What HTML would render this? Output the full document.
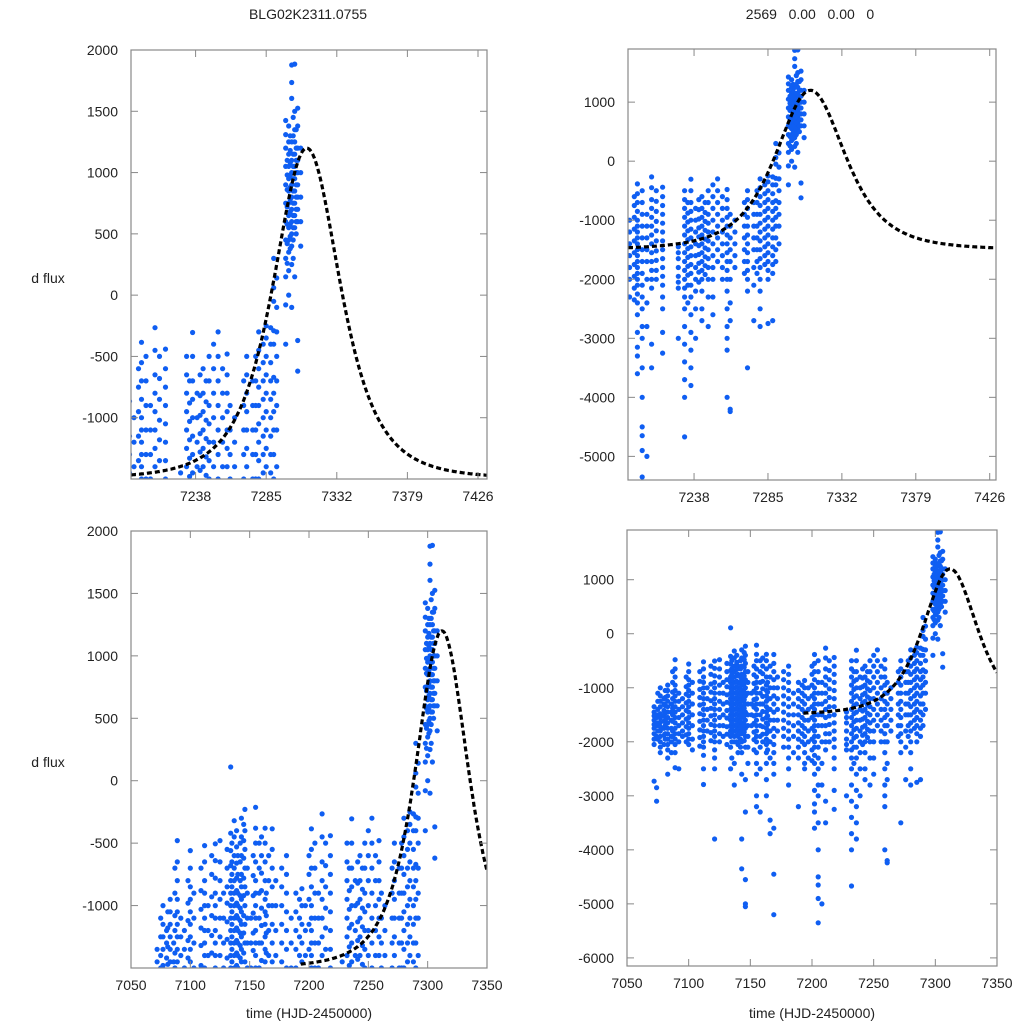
<!DOCTYPE html>
<html><head><meta charset="utf-8"><style>
html,body{margin:0;padding:0;background:#fff;width:1024px;height:1024px;overflow:hidden;}
svg{display:block;font-family:"Liberation Sans",Arial,sans-serif;}
</style></head><body>
<svg id="chart" width="1024" height="1024" viewBox="0 0 1024 1024" xmlns="http://www.w3.org/2000/svg">
<rect width="1024" height="1024" fill="#fff"/>
<text x="308" y="19" font-size="14" text-anchor="middle" fill="#222">BLG02K2311.0755</text>
<text x="810" y="19" font-size="14" text-anchor="middle" fill="#222" style="white-space:pre" xml:space="preserve">2569   0.00   0.00   0</text>
<text x="48" y="283" font-size="14" text-anchor="middle" fill="#222">d flux</text>
<text x="48" y="767" font-size="14" text-anchor="middle" fill="#222">d flux</text>
<text x="309" y="1018" font-size="14" text-anchor="middle" fill="#222">time (HJD-2450000)</text>
<text x="812" y="1018" font-size="14" text-anchor="middle" fill="#222">time (HJD-2450000)</text>
</svg>
<script>
// observation nights (HJD-2450000) and the d-flux values measured on each night
const nightTimes = [7072,7074,7077,7080,7083,7086,7089,7092,7095,7100,7103,7112,7115,7121,7125,7128,7134,7137,7140,7143,7146,7148,7151,7155,7158,7163,7166,7169,7172,7181,7185,7189,7194,7197,7202,7205,7208,7211,7218,7228,7232,7236,7239,7243,7247,7250,7253,7259,7261,7272,7276,7280,7285,7288,7290,7292,7298,7300,7302,7304,7306,7308,
7075,7081,7087,7098,7109,7118,7131,7135,7139,7142,7145,7153,7160,7164,7177,7192,7200,7214,7234,7241,7245,7256,7264,7270,7278,7283,7299,7301,7303,7305];
const nightFlux = [
[-1350,-1450,-1520,-1600,-1680,-1750,-1850,-1950,-2050,-2730],
[-1550,-1700,-1900,-2850,-3100],
[-1000,-1150,-1250,-1350,-1480,-1560,-1640,-1720,-1800,-1900,-2000,-2100,-2200],
[-1200,-1300,-1420,-1520,-1620,-1750,-1880,-2050],
[-950,-1050,-1150,-1250,-1350,-1450,-1550,-1650,-1750,-1850,-1950,-2050,-2150,-2300,-2600],
[-1300,-1450,-1600,-1750,-1900,-2000,-2200],
[-480,-650,-800,-950,-1050,-1150,-1250,-1350,-1450,-1550,-1650,-1750,-1850,-1950,-2050,-2200,-2480],
[-1100,-1250,-1400,-1550,-1700,-1850,-2000,-2500],
[-1200,-1350,-1500,-1650,-1800,-1900],
[-560,-700,-850,-950,-1050,-1150,-1250,-1350,-1450,-1550,-1650,-1750,-1850,-1950,-2050],
[-900,-1100,-1300,-1500,-1700,-1950,-2150],
[-520,-650,-800,-900,-1000,-1100,-1200,-1300,-1400,-1500,-1600,-1700,-1800,-1900,-2000,-2100,-2250,-2500,-2790],
[-1000,-1200,-1400,-1600,-1800],
[-505,-640,-780,-900,-1000,-1100,-1200,-1300,-1400,-1500,-1600,-1700,-1800,-1900,-2000,-2150,-2300,-2500,-3800],
[-480,-650,-800,-950,-1100,-1250,-1400,-1550,-1700,-1850,-2000],
[-900,-1100,-1300,-1500,-1700,-1900],
[110,-420,-560,-680,-800,-900,-1000,-1100,-1200,-1300,-1400,-1500,-1600,-1700,-1800,-1900,-2100,-2500],
[-320,-450,-600,-700,-800,-900,-1000,-1100,-1200,-1300,-1400,-1500,-1600,-1700,-1800,-1900,-2000,-2400,-2800],
[-600,-750,-900,-1000,-1100,-1200,-1300,-1400,-1500,-1600,-1700,-1800,-1900,-2050,-2200],
[-300,-450,-600,-750,-850,-950,-1050,-1150,-1250,-1350,-1450,-1550,-1650,-1750,-1850,-2000,-2200,-2600,-3800,-4350],
[-230,-400,-550,-700,-850,-1000,-1150,-1300,-1450,-1600,-1750,-1900,-2100,-2700,-3300,-4550,-5000,-5050],
[-700,-900,-1100,-1300,-1500,-1700,-1900,-2100,-2400,-6200],
[-1100,-1300,-1500,-1700],
[-213,-380,-500,-650,-800,-900,-1000,-1100,-1200,-1300,-1400,-1500,-1600,-1700,-1800,-1900,-2000,-2200,-2400,-2600,-3000,-3200],
[-500,-700,-900,-1100,-1300,-1500,-1700,-1900,-2100,-2500,-3300],
[-380,-500,-650,-800,-950,-1050,-1150,-1250,-1350,-1450,-1550,-1650,-1750,-1850,-1950,-2050,-2200,-2400,-2700,-3000],
[-600,-800,-1000,-1200,-1400,-1600,-1800,-2000,-2300,-3450,-3700],
[-385,-550,-700,-850,-1000,-1150,-1300,-1450,-1600,-1750,-1900,-2050,-2200,-2400,-2600,-3600,-4450,-5200],
[-800,-1000,-1200,-1400,-1600,-1800],
[-600,-750,-900,-1050,-1200,-1350,-1500,-1650,-1800,-1950,-2100,-2300,-2500,-2800],
[-1100,-1300,-1500,-1700,-1900,-2200],
[-900,-1050,-1200,-1350,-1500,-1650,-1800,-1950,-2100,-2300,-3200],
[-865,-1000,-1150,-1300,-1450,-1600,-1750,-1900,-2050,-2200,-2400,-2500],
[-1000,-1200,-1400,-1600,-1800,-2000,-2300],
[-385,-550,-700,-850,-1000,-1100,-1200,-1300,-1400,-1500,-1600,-1700,-1800,-1900,-2000,-2100,-2250,-2400,-2600,-2900,-3150,-3300,-3600],
[-500,-700,-900,-1100,-1300,-1500,-1700,-1900,-2100,-2300,-2500,-2800,-3000,-3500,-4000,-4500,-4650,-4900,-5350],
[-900,-1100,-1300,-1500,-1700,-2000,-2400,-2800,-5000],
[-266,-450,-650,-800,-950,-1100,-1250,-1400,-1550,-1700,-1850,-2000,-2150,-3100,-3500],
[-440,-600,-750,-900,-1050,-1200,-1350,-1500,-1650,-1800,-1950,-2100,-2300,-2500,-2900,-3250],
[-1450,-1550,-1650,-1800,-1950,-2050,-2150,-3000],
[-500,-650,-800,-950,-1100,-1250,-1400,-1550,-1700,-1850,-2000,-2150,-2300,-2500,-2800,-3100,-3400,-3700,-4000,-4670],
[-305,-500,-700,-850,-1000,-1150,-1300,-1450,-1600,-1750,-1900,-2100,-2300,-2600,-2900,-3200,-3500,-3800],
[-800,-1000,-1200,-1400,-1600,-1800,-2000,-2200,-2500,-3000],
[-600,-800,-950,-1100,-1250,-1400,-1550,-1700,-1850,-2000,-2200,-2500,-2700],
[-500,-700,-900,-1050,-1200,-1350,-1500,-1650,-1800,-2000,-2300,-2800],
[-400,-600,-800,-1000,-1200,-1400,-1600,-1800,-2000,-2300,-2600],
[-300,-500,-700,-900,-1100,-1300,-1500,-1700],
[-480,-650,-800,-950,-1100,-1250,-1400,-1550,-1700,-1850,-2000,-2200,-2500,-2800,-3000,-3200,-4000],
[-900,-1100,-1300,-1500,-1700,-2000,-2400,-2700,-4200,-4240],
[-500,-650,-800,-950,-1100,-1250,-1400,-1550,-1700,-1850,-2000,-2200,-3500],
[-700,-900,-1100,-1300,-1500,-1800,-2100,-2700],
[-300,-450,-600,-750,-900,-1050,-1200,-1350,-1500,-1650,-1800,-2000,-2200,-2500,-2800],
[-250,-350,-500,-650,-800,-950,-1100,-1250,-1400,-1550,-1700,-1850,-2000,-2750],
[-266,-400,-550,-700,-850,-1000,-1150,-1300,-1450,-1600,-1750,-1900,-2700],
[300,60,-50,-290,-400,-670,-800,-950,-1100,-1300,-1500,-1700],
[140,-100,-300,-500,-700,-900,-1100,-1400],
[1425,1310,1200,1050,900,750,600,450,300,150,-80,-400],
[1380,1250,1150,1050,950,850,750,650,550,450,350,200,0],
[1878,1735,1605,1250,1100,1000,900,800,700,600,500,400,250,-100],
[1885,1500,1350,1250,1150,1050,950,850,750,650,550,150],
[1525,1380,1200,1100,1000,900,800,700,600,-370,-620],
[1200,1000,800,600,400],
[-1100,-1250,-1400,-1500,-1650,-1800,-1950],
[-1050,-1180,-1330,-1470,-1600,-1700,-1850,-1950],
[-700,-900,-1080,-1200,-1380,-1500,-1620,-1800,-1900],
[-800,-980,-1120,-1280,-1420,-1580,-1720,-1870,-2000],
[-700,-880,-1030,-1180,-1320,-1480,-1620,-1780,-1920,-2080],
[-600,-750,-930,-1080,-1240,-1380,-1520,-1680,-1830,-1980],
[-550,-700,-850,-980,-1130,-1270,-1420,-1560,-1720,-1860,-2050],
[-500,-650,-750,-850,-950,-1050,-1150,-1250,-1350,-1450,-1550,-1650,-1750,-1850,-2000,-2300],
[-400,-530,-660,-780,-880,-980,-1080,-1180,-1280,-1380,-1480,-1580,-1680,-1780,-1880,-2000],
[-500,-650,-800,-920,-1020,-1120,-1220,-1320,-1420,-1520,-1620,-1720,-1820,-1950,-2100],
[-350,-480,-620,-780,-920,-1080,-1220,-1380,-1520,-1680,-1820,-1980],
[-600,-760,-920,-1060,-1220,-1360,-1520,-1660,-1820,-1960,-2150],
[-450,-600,-740,-880,-1020,-1160,-1300,-1440,-1580,-1720,-1860,-2000],
[-900,-1080,-1220,-1380,-1520,-1680,-1820,-1980,-2150],
[-700,-850,-1000,-1150,-1300,-1450,-1600,-1750,-1900,-2100],
[-950,-1100,-1250,-1400,-1550,-1700,-1850,-2000],
[-600,-750,-950,-1150,-1350,-1550,-1750,-1950,-2150,-2350],
[-500,-680,-850,-1020,-1180,-1350,-1520,-1680,-1850,-2000],
[-700,-880,-1030,-1180,-1330,-1480,-1630,-1780,-1930,-2100,-2400],
[-650,-820,-980,-1130,-1280,-1430,-1580,-1730,-1880,-2050],
[-700,-870,-1020,-1170,-1320,-1470,-1620,-1770,-1920],
[-600,-800,-1000,-1200,-1400,-1600,-1800,-2000],
[-1000,-1200,-1400,-1600,-1800],
[-700,-900,-1100,-1300,-1500,-1700,-1900],
[-500,-700,-900,-1100,-1300,-1500,-1700,-1900],
[-400,-550,-700,-850,-1000,-1150,-1300,-1450,-1600,-1750],
[1100,980,860,720,580,420,260],
[1300,1180,1080,980,880,780,680,580,480,380],
[1450,1300,1150,1050,950,850,750,650,550,450,300],
[1350,1200,1100,1000,900,800,700,600,500]
];
// microlensing fit parameters: t0, tE, u0, baseline, peak flux
const fitT0 = 7312, fitTE = 17.3, fitU0 = 2.0, fitBase = -1500, fitPeak = 1200;
const fitStart = 7193, fitEnd = 7440;
// axis ticks
const zoomXTicks = [7238,7285,7332,7379,7426];
const fullXTicks = [7050,7100,7150,7200,7250,7300,7350];
const leftYTicks = [-1000,-500,0,500,1000,1500,2000];
const topRightYTicks = [-5000,-4000,-3000,-2000,-1000,0,1000];
const bottomRightYTicks = [-6000,-5000,-4000,-3000,-2000,-1000,0,1000];

const panels = [
 {name:'top-left', x0:131,x1:487,y0:50,y1:479, t0:7195,t1:7432, f0:-1500,f1:2000, xt:zoomXTicks, yt:leftYTicks},
 {name:'top-right', x0:628,x1:996,y0:49,y1:480, t0:7196,t1:7430, f0:-5400,f1:1900, xt:zoomXTicks, yt:topRightYTicks},
 {name:'bottom-left', x0:131,x1:487,y0:531,y1:968, t0:7050,t1:7350, f0:-1500,f1:2000, xt:fullXTicks, yt:leftYTicks},
 {name:'bottom-right', x0:627,x1:997,y0:530,y1:966, t0:7050,t1:7350, f0:-6150,f1:1920, xt:fullXTicks, yt:bottomRightYTicks}
];
const NS='http://www.w3.org/2000/svg';
const svg=document.getElementById('chart');
function mk(tag,attrs,parent){const e=document.createElementNS(NS,tag);for(const k in attrs)e.setAttribute(k,attrs[k]);(parent||svg).appendChild(e);return e;}
function magn(u){return (u*u+2)/(u*Math.sqrt(u*u+4));}
function fitFlux(t){const tau=(t-fitT0)/fitTE;const u=Math.sqrt(fitU0*fitU0+tau*tau);return fitBase+(fitPeak-fitBase)*(magn(u)-1)/(magn(fitU0)-1);}

panels.forEach((p,pi)=>{
 const xs=t=>p.x0+(t-p.t0)/(p.t1-p.t0)*(p.x1-p.x0);
 const ys=f=>p.y1-(f-p.f0)/(p.f1-p.f0)*(p.y1-p.y0);
 const g=mk('g',{});
 
 
 const cp=mk('clipPath',{id:'clip'+pi},g);
 mk('rect',{x:p.x0,y:p.y0,width:p.x1-p.x0,height:p.y1-p.y0},cp);
 const pts=mk('g',{'clip-path':'url(#clip'+pi+')',fill:'#0f5ef2'},g);
 
 
 nightTimes.forEach((t,i)=>{
   if(t<p.t0-2||t>p.t1+2) return;
   nightFlux[i].forEach(f=>{
   if(f<p.f0-40||f>p.f1+40) return;
   const c=mk('circle',{cx:xs(t).toFixed(1),cy:ys(f).toFixed(1),r:2.6},pts);
   
   
 });});
 let d='';
 const ta=Math.max(fitStart,p.t0), tb=Math.min(fitEnd,p.t1);
 for(let t=ta;t<=tb;t+=0.5){const f=Math.max(fitFlux(t),p.f0);d+=(d?'L':'M')+xs(t).toFixed(1)+','+ys(f).toFixed(1);}
 const fit=mk('path',{d:d,fill:'none',stroke:'#000','stroke-width':3.2,'stroke-dasharray':'5,3','clip-path':'url(#clip'+pi+')'},g);
 
 
 const box=mk('rect',{x:p.x0,y:p.y0,width:p.x1-p.x0,height:p.y1-p.y0,fill:'none',stroke:'#888','stroke-width':1.2},g);
 
 
 p.xt.forEach(t=>{const x=xs(t);
   mk('line',{x1:x,x2:x,y1:p.y1,y2:p.y1-7,stroke:'#888'},g);
   mk('line',{x1:x,x2:x,y1:p.y0,y2:p.y0+7,stroke:'#888'},g);
   const tl=mk('text',{x:x,y:p.y1+22,'font-size':14,'text-anchor':'middle',fill:'#222'},g);tl.textContent=t;
   
   
 });
 p.yt.forEach(f=>{const y=ys(f);
   mk('line',{x1:p.x0,x2:p.x0+7,y1:y,y2:y,stroke:'#888'},g);
   mk('line',{x1:p.x1,x2:p.x1-7,y1:y,y2:y,stroke:'#888'},g);
   const tl=mk('text',{x:p.x0-13,y:y+5,'font-size':14,'text-anchor':'end',fill:'#222'},g);tl.textContent=f;
   
   
 });
});
</script>
</body></html>
